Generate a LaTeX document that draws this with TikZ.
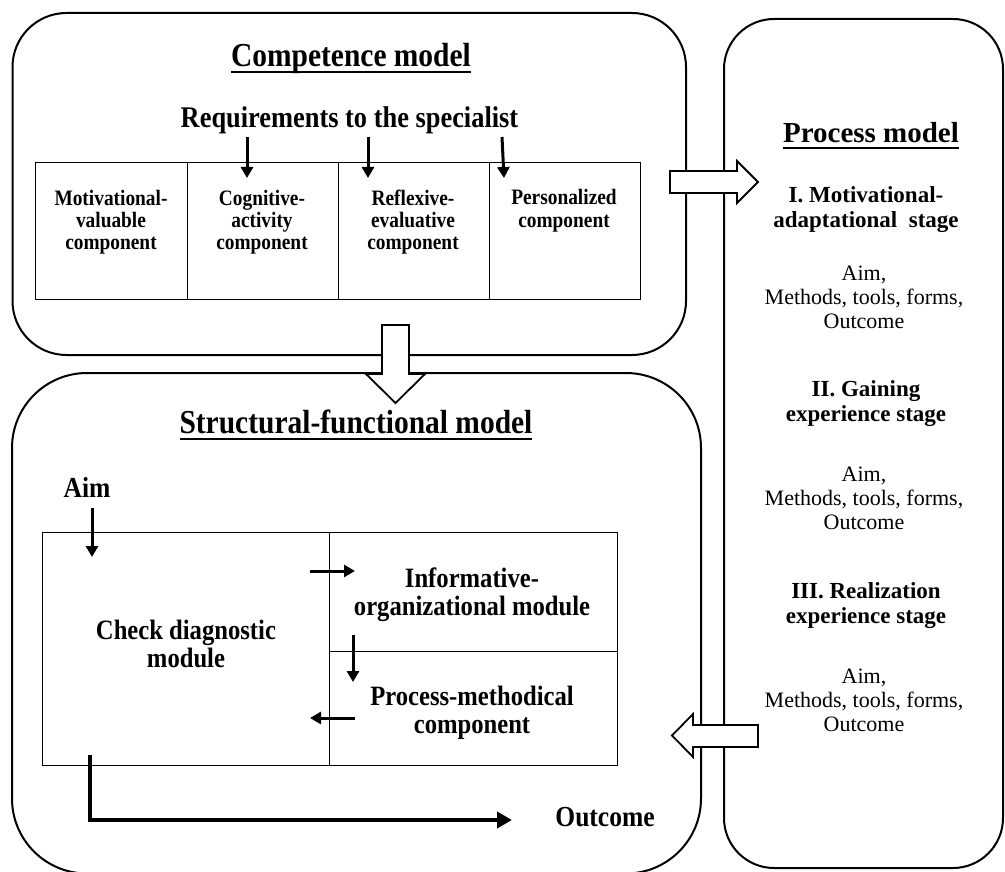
\documentclass[tikz,border=0pt]{standalone}
\usepackage{fontspec}
\setmainfont{Liberation Serif}
\newfontfamily\condserif[FakeStretch=0.88]{Liberation Serif}
\usetikzlibrary{arrows.meta}

\newcommand\titlerule[1]{\setbox0=\hbox{#1}\rlap{\rule[-6.5pt]{\wd0}{2pt}}\box0}

\begin{document}
\begin{tikzpicture}[x=1pt,y=-1pt,>={Triangle[length=11pt,width=12pt]},
    modelbox/.style={draw,line width=2pt},
    gridline/.style={draw,line width=1pt},
    blockarrow/.style={draw,line width=1.8pt,fill=white,line join=miter},
    link/.style={->,line width=3pt},
    bigtitle/.style={font=\condserif\bfseries\fontsize{33.5}{36}\selectfont,inner sep=0pt,anchor=base},
    reqtext/.style={font=\condserif\bfseries\fontsize{30}{32}\selectfont,inner sep=0pt,anchor=base},
    celltext/.style={font=\condserif\bfseries\fontsize{22}{22}\selectfont,align=center,inner sep=0pt,anchor=base},
    moduletext/.style={font=\condserif\bfseries\fontsize{28}{28}\selectfont,align=center,inner sep=0pt,anchor=base},
    labeltext/.style={font=\condserif\bfseries\fontsize{29}{32}\selectfont,inner sep=0pt,anchor=base},
    proctitle/.style={font=\bfseries\fontsize{29}{32}\selectfont,inner sep=0pt,anchor=base},
    stagetext/.style={font=\bfseries\fontsize{23}{25}\selectfont,align=center,inner sep=0pt,anchor=base},
    itemtext/.style={font=\fontsize{22}{24}\selectfont,align=center,inner sep=0pt,anchor=base}]
  \useasboundingbox (0,0) rectangle (1005,872);

  % the three models
  \draw[modelbox,rounded corners=54pt] (12.5,13) rectangle (686,355);
  \draw[modelbox,rounded corners=75pt] (12,373) rectangle (701,873.5);
  \draw[modelbox,rounded corners=50pt] (724,19) rectangle (1003,868);

  % competence model
  \node[bigtitle] (comptitle) at (351,67) {\titlerule{Competence model}};
  \node[reqtext] (req) at (349.5,128) {Requirements to the specialist};
  \draw[gridline] (35,163) rectangle (640,299);
  \foreach \x in {187,338,489}
    \draw[gridline] (\x,163) -- (\x,299);
  \node[celltext] (motiv) at (111,250) {Motivational-\\valuable\\component};
  \node[celltext] (cogn) at (262,250) {Cognitive-\\activity\\component};
  \node[celltext] (refl) at (413,250) {Reflexive-\\evaluative\\component};
  \node[celltext] (pers) at (564,227) {Personalized\\component};
  \coordinate (r1) at (247,137); \coordinate (c1) at (247,178);
  \coordinate (r2) at (368,137); \coordinate (c2) at (368,178);
  \coordinate (r3) at (502,137); \coordinate (c3) at (504,178);
  \draw[link] (r1) -- (c1);
  \draw[link] (r2) -- (c2);
  \draw[link] (r3) -- (c3);

  % structural-functional model
  \node[bigtitle] (strtitle) at (356,433) {\titlerule{Structural-functional model}};
  \node[labeltext] (aim) at (87,497) {Aim};
  \draw[gridline] (42,532) rectangle (617,765);
  \draw[gridline] (329,532) -- (329,765);
  \draw[gridline] (329,651) -- (617,651);
  \node[moduletext] (check) at (186,667) {Check diagnostic\\module};
  \node[moduletext] (inform) at (472,615) {Informative-\\organizational module};
  \node[moduletext] (procmeth) at (472,733) {Process-methodical\\component};
  \node[labeltext] (outcome) at (605,826) {Outcome};
  \coordinate (aimtop) at (92,508); \coordinate (aimend) at (92,557);
  \coordinate (m1) at (310,571); \coordinate (m2) at (355,571);
  \coordinate (m3) at (353,635); \coordinate (m4) at (353,682);
  \coordinate (m5) at (355,718); \coordinate (m6) at (310,718);
  \coordinate (outstart) at (90,755); \coordinate (outend) at (512,820);
  \draw[link] (aimtop) -- (aimend);
  \draw[link] (m1) -- (m2);
  \draw[link] (m3) -- (m4);
  \draw[link] (m5) -- (m6);
  \draw[line width=4pt,-{Triangle[length=15pt,width=16pt]}] (outstart) |- (outend);

  % process model
  \node[proctitle] (proctitle) at (871,143) {\titlerule{Process model}};
  \node[stagetext] (stage1) at (866,228) {I. Motivational-\\adaptational~ stage};
  \node[itemtext] (items1) at (864,328) {Aim,\\Methods, tools, forms,\\Outcome};
  \node[stagetext] (stage2) at (866,421) {II. Gaining\\experience stage};
  \node[itemtext] (items2) at (864,529) {Aim,\\Methods, tools, forms,\\Outcome};
  \node[stagetext] (stage3) at (866,623) {III. Realization\\experience stage};
  \node[itemtext] (items3) at (864,731) {Aim,\\Methods, tools, forms,\\Outcome};

  % block arrows between the models
  \draw[blockarrow] (382,325) -- (409,325) -- (409,374) -- (425,374) -- (395.5,403)
    -- (366,374) -- (382,374) -- cycle;
  \draw[blockarrow] (670,171) -- (737,171) -- (737,161) -- (758,182) -- (737,203)
    -- (737,193) -- (670,193) -- cycle;
  \draw[blockarrow] (758,725) -- (693,725) -- (693,714) -- (672,735.5) -- (693,757)
    -- (693,747) -- (758,747) -- cycle;
\end{tikzpicture}
\end{document}
